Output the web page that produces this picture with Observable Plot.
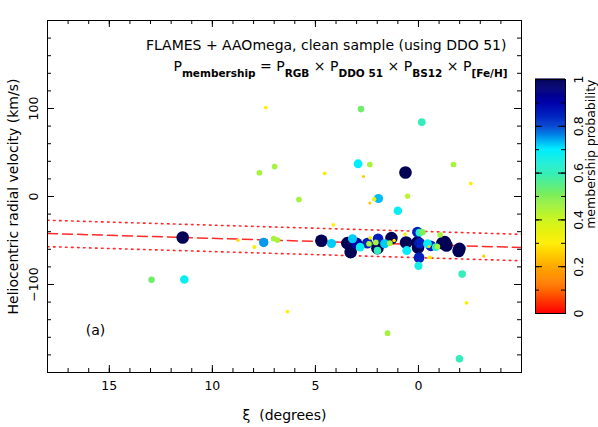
<!DOCTYPE html>
<html>
<head>
<meta charset="utf-8">
<script src="https://cdn.jsdelivr.net/npm/d3@7"></script>
<script src="https://cdn.jsdelivr.net/npm/@observablehq/plot@0.6"></script>
<style>
  html, body { margin: 0; padding: 0; background: white; }
  #wrap { position: relative; width: 598px; height: 427px; }
  #wrap svg { position: absolute; left: 0; top: 0; }
</style>
</head>
<body>
<div id="wrap"></div>
<script>
// ---- data ----
const xi = [7.41, 7.72, 6.98, 11.44, 8.76, 7.96, 7.51, 7.02, 6.84, 12.95, 11.36,
  2.79, -0.16, 2.93, 2.36, 0.63, -1.70, 4.55, 2.67, -2.54, 5.8, 2.15, 1.94, 2.36, 0.53, 1.0,
  4.13, -0.03, 0.0, -0.55, -3.17, -2.12, -2.33, 6.36, 1.5, -1.99,
  4.71, 4.22, 3.45, 3.29, 3.2, 3.0, 2.83, 2.48, 2.4, 1.96, 1.99, 2.07, 1.99, 1.64, 1.31,
  1.39, 1.18, 2.35, 0.65, 0.6, 0.57, 0.05, -0.05, -0.2, 0.05, -0.06, 0.02, -0.44, -0.51,
  -0.6, -0.92, -0.84, -1.28, -1.36, -1.05, -1.99, -1.95, -1.16];
const vel = [101, 27, 34, -46.6, -49.6, -57.5, -52.2, -47.7, -49.5, -94.7, -94.3,
  99.3, 84.5, 37.2, 36.4, 27.3, 36.4, 26.2, 22.7, 14.8, -3.4, -3, -2.3, -7.5, 0.4, -16.2,
  -32.2, -69.5, -78.8, -69.3, -67.8, -88.2, -120.8, -130.7, -155.3, -184.4,
  -50.3, -53.5, -53, -63.2, -48, -53, -57.5, -53, -53.7, -48, -58.7, -52.2, -61.3, -53.7, -47.3,
  -53, -50, -47, -42.7, -52.2, -61.4, -40.5, -41, -40.5, -52.2, -53, -58, -53.7, -56.8,
  -56, -56.8, -57.5, -51.8, -55.7, -43.5, -59.5, -62, -53];
const prob = [0.30, 0.45, 0.45, 1.0, 0.27, 0.32, 0.75, 0.45, 0.45, 0.52, 0.68,
  0.52, 0.60, 0.70, 0.45, 1.0, 0.45, 0.30, 0.25, 0.30, 0.45, 0.35, 0.73, 0.25, 0.42, 0.68,
  0.30, 0.85, 0.66, 0.32, 0.25, 0.60, 0.30, 0.30, 0.45, 0.60,
  1.0, 0.72, 1.0, 1.0, 0.72, 0.90, 0.68, 0.85, 0.45, 0.85, 1.0, 0.45, 0.60, 0.72, 1.0,
  0.45, 0.28, 0.30, 0.30, 1.0, 0.70, 0.85, 0.62, 0.50, 1.0, 0.85, 1.0, 0.70, 0.25,
  0.85, 0.45, 0.62, 1.0, 1.0, 0.45, 1.0, 1.0, 1.0];

// fitted mean velocity and its +/- band at the two ends of the xi range
const lineXi = [18, -5];
const fitMid = [-42, -58];
const fitUpper = [-27, -43];
const fitLower = [-57, -73];

// tick labels
const xTickLabels = [15, 10, 5, 0];
const yTickLabels = [-100, 0, 100];
const xMinorTicks = d3.range(-5, 19, 1);
const yMinorTicks = d3.range(-200, 201, 20);
const cbMajorTicks = [0, 0.2, 0.4, 0.6, 0.8, 1];
const cbMinorTicks = d3.range(0, 1.0001, 0.1);

// colour table (jet-like)
const cmapStops  = [0, 0.1, 0.2, 0.3, 0.4, 0.5, 0.6, 0.7, 0.75, 0.8, 0.9, 1];
const cmapColors = ["#ff0000", "#ff6a00", "#ffaa00", "#ffee00", "#ccf522", "#80ee55",
                    "#33eebb", "#00eeff", "#0099ee", "#0040d0", "#0000aa", "#000055"];

const points = d3.sort(xi.map((x, i) => ({xi: x, v: vel[i], p: prob[i]})), d => -d.p);
const band = (vals) => lineXi.map((x, i) => ({xi: x, v: vals[i]}));

const font = "DejaVu Sans";
const colorScale = {type: "linear", domain: cmapStops, range: cmapColors, interpolate: "rgb"};
const FW = 598 - 47 - 77, FH = 427 - 20 - 55;
const C = {textAnchor: "middle", lineAnchor: "middle"};

const main = Plot.plot({
  width: 598, height: 427,
  marginLeft: 47, marginRight: 77, marginTop: 20, marginBottom: 55,
  style: {fontFamily: font, fontSize: "14px", background: "white", color: "black", overflow: "visible"},
  x: {domain: [18, -5], axis: null},
  y: {domain: [-200, 200], axis: null},
  color: colorScale,
  r: {type: "linear", domain: [0, 1], range: [0, 6.3]},
  marks: [
    Plot.line(band(fitUpper), {x: "xi", y: "v", stroke: "#ff2a2a", strokeWidth: 1.6, strokeDasharray: "1.6,4.4", strokeLinecap: "round"}),
    Plot.line(band(fitLower), {x: "xi", y: "v", stroke: "#ff2a2a", strokeWidth: 1.6, strokeDasharray: "1.6,4.4", strokeLinecap: "round"}),
    Plot.line(band(fitMid), {x: "xi", y: "v", stroke: "#ff2a2a", strokeWidth: 1.5, strokeDasharray: "10,5"}),
    Plot.dot(points, {x: "xi", y: "v", r: "p", fill: "p", stroke: null}),
    Plot.frame({stroke: "black"}),
    // minor & major ticks, pointing inward on all sides
    Plot.tickX(xMinorTicks, {x: d => d, insetTop: FH - 4, stroke: "black"}),
    Plot.tickX(xMinorTicks, {x: d => d, insetBottom: FH - 4, stroke: "black"}),
    Plot.tickX(xTickLabels, {x: d => d, insetTop: FH - 7, stroke: "black"}),
    Plot.tickX(xTickLabels, {x: d => d, insetBottom: FH - 7, stroke: "black"}),
    Plot.tickY(yMinorTicks, {y: d => d, insetRight: FW - 4, stroke: "black"}),
    Plot.tickY(yMinorTicks, {y: d => d, insetLeft: FW - 4, stroke: "black"}),
    Plot.tickY(yTickLabels, {y: d => d, insetRight: FW - 7, stroke: "black"}),
    Plot.tickY(yTickLabels, {y: d => d, insetLeft: FW - 7, stroke: "black"}),
    // tick labels
    Plot.text(xTickLabels, {...C, x: d => d, frameAnchor: "bottom", dy: 13, text: d => String(d), fontSize: 12.5}),
    Plot.text(yTickLabels, {...C, y: d => d, frameAnchor: "left", dx: -14, rotate: -90, text: d => (d < 0 ? "\u2212" + Math.abs(d) : String(d)), fontSize: 12.5}),
    // axis labels
    Plot.text(["\u03BE  (degrees)"], {...C, frameAnchor: "bottom", dy: 43, text: d => d, fontSize: 14}),
    Plot.text(["Heliocentric radial velocity (km/s)"], {...C, frameAnchor: "left", dx: -34, rotate: -90, text: d => d, fontSize: 14}),
    // annotations
    Plot.text(["FLAMES + AAOmega, clean sample (using DDO 51)"], {frameAnchor: "top-right", lineAnchor: "middle", dx: -15, dy: 25.5, textAnchor: "end", text: d => d, fontSize: 14}),
    Plot.text(["PFORMULA"], {frameAnchor: "top-right", lineAnchor: "middle", dx: -14, dy: 46.5, textAnchor: "end", text: d => d, fontSize: 14}),
    Plot.text(["(a)"], {...C, frameAnchor: "bottom-left", dx: 48, dy: -42, text: d => d, fontSize: 14})
  ]
});

// Build the subscripted formula line
const formula = [["P", false], ["membership", true], [" = P", false], ["RGB", true],
  [" \u00D7 P", false], ["DDO 51", true], [" \u00D7 P", false], ["BS12", true],
  [" \u00D7 P", false], ["[Fe/H]", true]];
d3.select(main).selectAll("text").filter(function () { return this.textContent === "PFORMULA"; })
  .each(function () {
    const t = d3.select(this);
    t.text("");
    t.attr("xml:space", "preserve");
    let shifted = false;
    for (const [s, sub] of formula) {
      const ts = t.append("tspan").text(s);
      if (sub) {
        ts.attr("font-size", 10.5).attr("font-weight", "bold");
        if (!shifted) { ts.attr("dy", 5.5); shifted = true; }
      } else {
        ts.attr("font-size", 14).attr("font-weight", "normal");
        if (shifted) { ts.attr("dy", -5.5); shifted = false; }
      }
    }
  });

const bar = Plot.plot({
  width: 598, height: 427,
  marginLeft: 535, marginRight: 33, marginTop: 79, marginBottom: 114,
  style: {fontFamily: font, fontSize: "12.5px", background: "transparent", color: "black", overflow: "visible"},
  x: {domain: [0, 1], axis: null},
  y: {domain: [0, 1], axis: null},
  color: colorScale,
  marks: [
    Plot.rect(d3.range(240), {x1: () => 0, x2: () => 1, y1: d => d / 240, y2: d => (d + 1.6) / 240, fill: d => (d + 0.5) / 240}),
    Plot.frame({stroke: "black"}),
    Plot.tickY(cbMinorTicks, {y: d => d, insetRight: 26, stroke: "black"}),
    Plot.tickY(cbMinorTicks, {y: d => d, insetLeft: 26, stroke: "black"}),
    Plot.tickY(cbMajorTicks, {y: d => d, insetRight: 23, stroke: "black"}),
    Plot.tickY(cbMajorTicks, {y: d => d, insetLeft: 23, stroke: "black"}),
    Plot.text(cbMajorTicks, {...C, y: d => d, frameAnchor: "right", dx: 13, rotate: -90, text: d => (d === 0 || d === 1 ? String(d) : d.toFixed(1)), fontSize: 12.5}),
    Plot.text(["membership probability"], {frameAnchor: "top-right", lineAnchor: "middle", dx: 25, rotate: -90, textAnchor: "end", text: d => d, fontSize: 12.5})
  ]
});
bar.style.pointerEvents = "none";

const wrap = document.getElementById("wrap");
wrap.appendChild(main);
wrap.appendChild(bar);
</script>
</body>
</html>
